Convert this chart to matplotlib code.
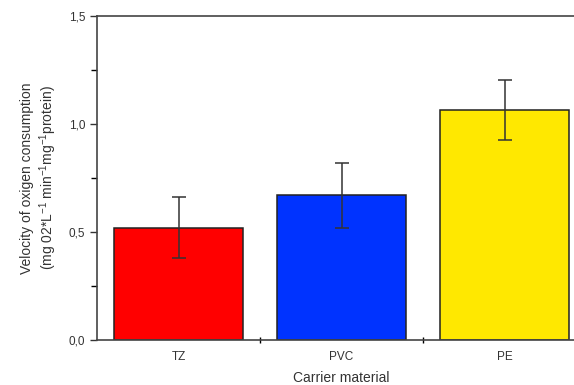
import matplotlib
matplotlib.use("Agg")
import matplotlib.pyplot as plt
from matplotlib.ticker import MultipleLocator, FixedLocator

plt.rcParams['font.family'] = ['Liberation Sans', 'DejaVu Sans']
plt.rcParams['mathtext.fontset'] = 'custom'
plt.rcParams['mathtext.rm'] = 'Liberation Sans'
plt.rcParams['mathtext.default'] = 'rm'

materials = ['TZ', 'PVC', 'PE']
velocity = [0.52, 0.67, 1.065]
errors = [0.14, 0.15, 0.14]
colors = ['#ff0000', '#0033ff', '#ffe800']

fig = plt.figure(figsize=(5.74, 3.85), dpi=100)
ax = fig.add_axes([0.169, 0.117, 0.852, 0.841])

x = list(range(len(materials)))
ax.bar(x, velocity, width=0.79, color=colors, edgecolor='#222222', linewidth=1.1,
       yerr=errors, error_kw=dict(ecolor='#333333', elinewidth=1.1, capsize=5, capthick=1.1))

ax.set_xlim(-0.5, 2.5)
ax.set_ylim(0, 1.5)
ax.yaxis.set_major_locator(MultipleLocator(0.5))
ax.yaxis.set_minor_locator(MultipleLocator(0.25))
ax.yaxis.set_major_formatter(plt.FuncFormatter(lambda v, p: f"{v:.1f}".replace('.', ',')))
ax.set_xticks(x)
ax.set_xticklabels(materials, fontsize=8.5, color='#333333')
ax.tick_params(axis='x', length=0, pad=8)
ax.xaxis.set_minor_locator(FixedLocator([0.5, 1.5]))
ax.tick_params(axis='x', which='minor', length=5, direction='inout', width=1)
ax.tick_params(axis='y', which='major', length=5, width=1, labelsize=8.5, colors='#333333')
ax.tick_params(axis='y', which='minor', length=4, width=1)

for s in ['left', 'bottom', 'top']:
    ax.spines[s].set_color('#444444')
    ax.spines[s].set_linewidth(1.2)
ax.spines['right'].set_visible(False)

ax.set_xlabel('Carrier material', fontsize=10, color='#333333', labelpad=6)
ax.set_ylabel('Velocity of oxigen consumption\n(mg 02*L$^{-1}$ min$^{-1}$mg$^{-1}$protein)',
              fontsize=10, color='#333333', labelpad=7)

fig.savefig('out.png', dpi=100)
